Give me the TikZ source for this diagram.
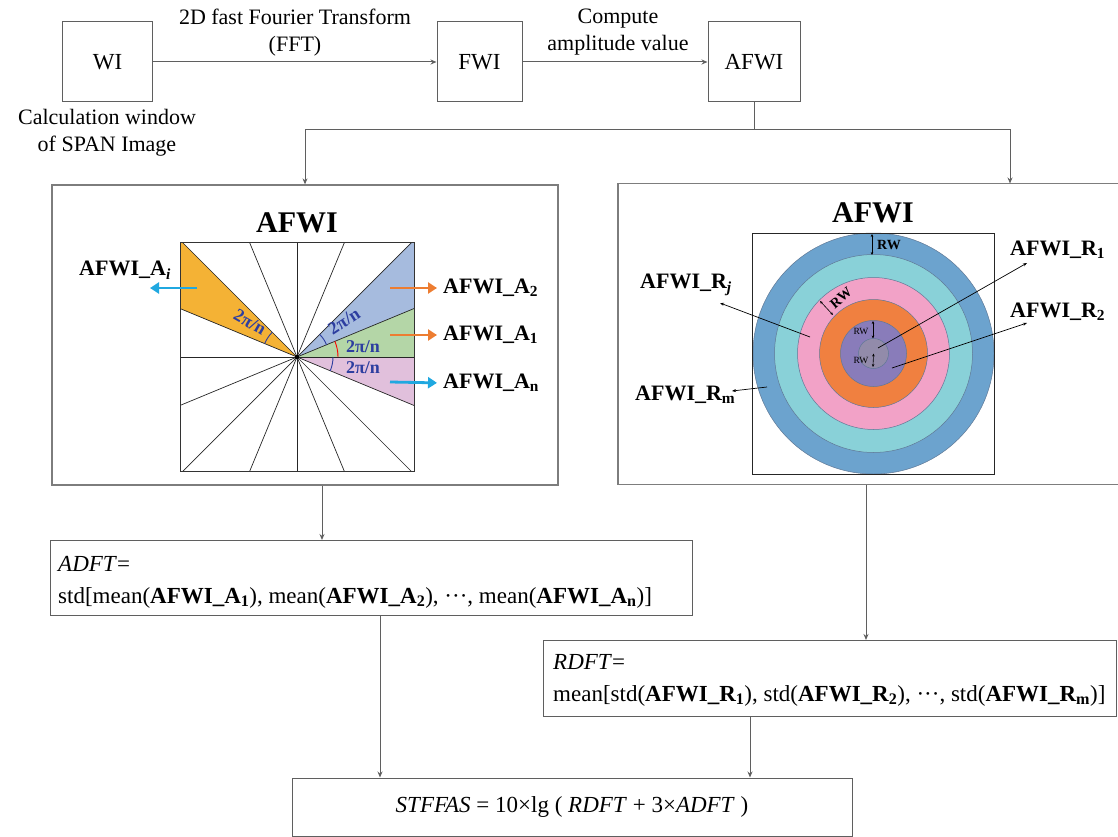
\documentclass[tikz,border=0pt]{standalone}
\usepackage{fontspec}
\setmainfont{Liberation Serif}
\usetikzlibrary{arrows.meta}
\definecolor{linegray}{RGB}{95,95,95}
\definecolor{panelgray}{RGB}{125,125,125}
\definecolor{secOrange}{RGB}{244,178,53}
\definecolor{secBlue}{RGB}{166,187,222}
\definecolor{secGreen}{RGB}{180,214,167}
\definecolor{secPink}{RGB}{225,192,220}
\definecolor{angBlue}{RGB}{45,62,160}
\definecolor{arrBlue}{RGB}{32,168,224}
\definecolor{arrOrange}{RGB}{237,125,49}
\definecolor{ringA}{RGB}{108,163,206}
\definecolor{ringB}{RGB}{137,209,216}
\definecolor{ringC}{RGB}{242,162,199}
\definecolor{ringD}{RGB}{240,128,64}
\definecolor{ringE}{RGB}{137,124,186}
\definecolor{ringF}{RGB}{146,139,170}
\definecolor{ringline}{RGB}{95,120,150}
\begin{document}
\begin{tikzpicture}[x=1pt,y=-1pt,
  font=\fontsize{23}{32}\selectfont,
  box/.style={draw=linegray,line width=1pt,inner sep=0pt},
  panel/.style={draw=panelgray,line width=1.3pt,inner sep=0pt},
  arr/.style={draw=linegray,line width=1pt,-{Stealth[length=6pt,width=5pt]}},
  plain/.style={draw=linegray,line width=1pt},
  lbl/.style={font=\bfseries\fontsize{22}{24}\selectfont,inner sep=0pt},
  ttl/.style={font=\bfseries\fontsize{30}{32}\selectfont,inner sep=0pt},
  ang/.style={font=\bfseries\fontsize{18}{19}\selectfont,text=angBlue,inner sep=0pt},
  bluearr/.style={draw=arrBlue,line width=2.8pt,-{Triangle[length=9pt,width=11pt]}},
  orarr/.style={draw=arrOrange,line width=2.8pt,-{Triangle[length=9pt,width=11pt]}},
  dimarr/.style={line width=0.6pt,{Stealth[length=3pt,width=2.6pt]}-{Stealth[length=3pt,width=2.6pt]}},
  lead/.style={line width=0.7pt,-{Stealth[length=4pt,width=3pt]}},
  toplbl/.style={font=\fontsize{22}{27}\selectfont,align=center,inner sep=0pt},
  ftext/.style={anchor=west,align=left,inner sep=0pt}
]
\useasboundingbox (0,0) rectangle (1118,837);

% ---------------- top row
\node[box,minimum width=90pt,minimum height=80pt] (wi) at (107.5,62) {WI};
\node[box,minimum width=85pt,minimum height=80pt] (fwi) at (479.5,62) {FWI};
\node[box,minimum width=92pt,minimum height=80pt] (afwi) at (754,62) {AFWI};
\draw[arr] (wi) -- (fwi);
\draw[arr] (fwi) -- (afwi);
\node[toplbl] (fft) at (295,33) {2D fast Fourier Transform\\(FFT)};
\node[toplbl] (amp) at (618,32) {Compute\\amplitude value};
\node[toplbl] (calc) at (107,133) {Calculation window\\of SPAN Image};

% ---------------- panels
\node[panel,minimum width=506pt,minimum height=300pt] (lp) at (305,335) {};
\node[panel,minimum width=510pt,minimum height=301pt] (rp) at (873,334) {};
\coordinate (j) at (754,130);
\coordinate (rpin) at (1010,183.5);
\draw[plain] (afwi.south) -- (j);
\draw[arr] (j) -| (lp.north);
\draw[arr] (j) -| (rpin);

% ---------------- left panel: sectors
\node[ttl] (t1) at (297,223) {AFWI};
\begin{scope}
  \clip (180,242) rectangle (414,471);
  \begin{scope}[shift={(297,357)},yscale=-1]
    \fill[secOrange] (0,0) -- (135:300) -- (157.5:300) -- cycle;
    \fill[secBlue] (0,0) -- (22.5:300) -- (45:300) -- cycle;
    \fill[secGreen] (0,0) -- (0:300) -- (22.5:300) -- cycle;
    \fill[secPink] (0,0) -- (-22.5:300) -- (0:300) -- cycle;
    \foreach \a in {0,22.5,...,337.5} \draw[line width=0.7pt,black!85] (0,0) -- (\a:300);
    \draw[angBlue,line width=0.9pt] (135:35) arc[start angle=135,end angle=157.5,radius=35];
    \draw[angBlue,line width=0.9pt] (22.5:32) arc[start angle=22.5,end angle=45,radius=32];
    \draw[red,line width=0.9pt] (0:41) arc[start angle=0,end angle=22.5,radius=41];
    \draw[angBlue,line width=0.9pt] (-22.5:36) arc[start angle=-22.5,end angle=0,radius=36];
    \fill[black] (0,0) circle[radius=2.2];
  \end{scope}
\end{scope}
\node[draw=black!80,line width=0.9pt,minimum width=234pt,minimum height=229pt,inner sep=0pt] (sq) at (297,356.5) {};
\node[ang,rotate=-30] (g1) at (250,322) {2π/n};
\node[ang,rotate=33] (g2) at (344,321) {2π/n};
\node[ang] (g3) at (363,347) {2π/n};
\node[ang] (g4) at (363,368) {2π/n};

\node[lbl,anchor=east] (lai) at (171,270) {AFWI\_A\textsubscript{\textit{i}}};
\node[lbl,anchor=west] (la2) at (443,288) {AFWI\_A\textsubscript{2}};
\node[lbl,anchor=west] (la1) at (443,335) {AFWI\_A\textsubscript{1}};
\node[lbl,anchor=west] (lan) at (443,383) {AFWI\_A\textsubscript{n}};
\coordinate (si) at (197,288);
\coordinate (ei) at (150,288);
\coordinate (s2) at (390,288);
\coordinate (s1) at (390,335);
\coordinate (sn) at (390,382);
\draw[bluearr] (si) -- (ei);
\draw[orarr,shorten >=6pt] (s2) -- (la2.west);
\draw[orarr,shorten >=6pt] (s1) -- (la1.west);
\draw[bluearr,shorten >=6pt] (sn) -- (lan.west);

% ---------------- right panel: rings
\node[ttl] (t2) at (873,213) {AFWI};
\coordinate (cc) at (873.5,353.5);
\fill[ringA,draw=ringline,line width=0.5pt] (cc) circle[radius=120.5pt];
\fill[ringB,draw=ringline,line width=0.5pt] (cc) circle[radius=99pt];
\fill[ringC,draw=ringline,line width=0.5pt] (cc) circle[radius=76pt];
\fill[ringD,draw=ringline,line width=0.5pt] (cc) circle[radius=54pt];
\fill[ringE,draw=ringline,line width=0.5pt] (cc) circle[radius=33pt];
\fill[ringF,draw=ringline,line width=0.5pt] (cc) circle[radius=15pt];
\node[draw=black!85,line width=0.9pt,minimum width=242pt,minimum height=241pt,inner sep=0pt] (sq2) at (873,353.5) {};

\coordinate (d1a) at (872,234);
\coordinate (d1b) at (872,255);
\draw[dimarr] (d1a) -- (d1b);
\node[font=\bfseries\fontsize{14}{14}\selectfont,inner sep=0pt] (rw1) at (889,245) {RW};
\coordinate (d2a) at (820,301);
\coordinate (d2b) at (833,315);
\draw[dimarr] (d2a) -- (d2b);
\node[font=\bfseries\fontsize{14}{14}\selectfont,inner sep=0pt,rotate=40] (rw2) at (841,298) {RW};
\coordinate (d3a) at (873,321);
\coordinate (d3b) at (873,338.5);
\draw[dimarr] (d3a) -- (d3b);
\node[font=\fontsize{9.5}{10}\selectfont,inner sep=0pt] (rw3) at (861,331) {RW};
\coordinate (d4b) at (873,367);
\draw[dimarr] (cc) -- (d4b);
\node[font=\fontsize{9.5}{10}\selectfont,inner sep=0pt] (rw4) at (861,360) {RW};

\node[lbl,anchor=west] (lr1) at (1010,250) {AFWI\_R\textsubscript{1}};
\node[lbl,anchor=west] (lr2) at (1010,312) {AFWI\_R\textsubscript{2}};
\node[lbl,anchor=west] (lrj) at (640,285) {AFWI\_R\textsubscript{\textit{j}}};
\node[lbl,anchor=west] (lrm) at (635,395) {AFWI\_R\textsubscript{m}};
\coordinate (p1) at (878,348);  \coordinate (q1) at (1027,263);
\coordinate (p2) at (892,368);  \coordinate (q2) at (1027,323);
\coordinate (pj) at (810,337);  \coordinate (qj) at (720,303);
\coordinate (pm) at (767,387);  \coordinate (qm) at (732,391);
\draw[lead] (p1) -- (q1);
\draw[lead] (p2) -- (q2);
\draw[lead] (pj) -- (qj);
\draw[lead] (pm) -- (qm);

% ---------------- formula boxes
\node[box,anchor=north west,minimum width=642pt,minimum height=75pt] (adft) at (50,540) {};
\node[ftext] (adftx) at (58,582)
  {\textit{ADFT}=\\std[mean(\textbf{AFWI\_A\textsubscript{1}}), mean(\textbf{AFWI\_A\textsubscript{2}}), ···, mean(\textbf{AFWI\_A\textsubscript{n}})]};
\node[box,anchor=north west,minimum width=573pt,minimum height=76pt] (rdft) at (543,640) {};
\node[ftext] (rdftx) at (553,680)
  {\textit{RDFT}=\\mean[std(\textbf{AFWI\_R\textsubscript{1}}), std(\textbf{AFWI\_R\textsubscript{2}}), ···, std(\textbf{AFWI\_R\textsubscript{m}})]};
\node[box,minimum width=560pt,minimum height=58pt] (stf) at (572,807)
  {\textit{STFFAS} = 10×lg ( \textit{RDFT} + 3×\textit{ADFT} )};

\coordinate (lpo) at (322,485.5);
\coordinate (rpo) at (866,484.5);
\draw[arr] (lpo) -- (lpo |- adft.north);
\draw[arr] (rpo) -- (rpo |- rdft.north);
\coordinate (ao) at (380,615);
\coordinate (ro) at (750,716);
\draw[arr] (ao) -- (ao |- stf.north);
\draw[arr] (ro) -- (ro |- stf.north);
\end{tikzpicture}
\end{document}
